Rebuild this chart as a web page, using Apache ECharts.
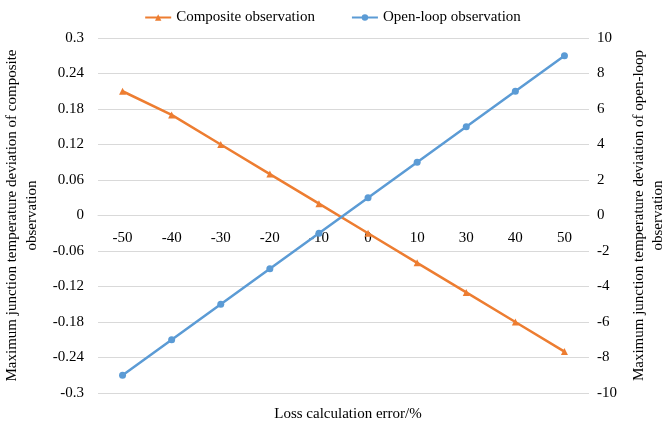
<!DOCTYPE html>
<html><head><meta charset="utf-8">
<script src="https://cdn.jsdelivr.net/npm/echarts@6/dist/echarts.min.js"></script>
<style>html,body{margin:0;padding:0;background:#fff}#c{width:665px;height:427px}</style>
</head><body><div id="c"></div>
<script>
const categories = ['-50','-40','-30','-20','-10','0','10','30','40','50'];
const composite = [0.21, 0.17, 0.12, 0.07, 0.02, -0.03, -0.08, -0.13, -0.18, -0.23];
const openLoop = [-9, -7, -5, -3, -1, 1, 3, 5, 7, 9];
const leftTicks = { min: -0.3, max: 0.3, interval: 0.06 };
const rightTicks = { min: -10, max: 10, interval: 2 };

const font = 'Liberation Serif';
const chart = echarts.init(document.getElementById('c'));
chart.setOption({
  animation: false,
  textStyle: { fontFamily: font },
  title: {
    text: 'Loss calculation error/%', left: 343, textAlign: 'center', top: 402,
    textStyle: { fontFamily: font, fontSize: 15, fontWeight: 'normal', color: '#000' }
  },
  legend: {
    top: 5, left: 'center', itemWidth: 26, itemHeight: 8, itemGap: 36,
    textStyle: { fontFamily: font, fontSize: 15, color: '#000' }
  },
  grid: { left: 98, right: 76, top: 38, bottom: 34, containLabel: false, outerBoundsMode: 'none' },
  xAxis: {
    type: 'category', data: categories, boundaryGap: true, position: 'bottom', offset: -177.5,
    axisLine: { onZero: false, lineStyle: { color: '#d9d9d9', width: 1 } },
    axisTick: { show: false },
    axisLabel: { fontFamily: font, fontSize: 15, color: '#000', margin: 15 }
  },
  yAxis: [
    {
      type: 'value', position: 'left', min: leftTicks.min, max: leftTicks.max, interval: leftTicks.interval,
      name: 'Maximum junction temperature deviation of composite\nobservation',
      nameLocation: 'middle', nameRotate: 90, nameGap: 48,
      nameTextStyle: { fontFamily: font, fontSize: 15, color: '#000', lineHeight: 20 },
      axisLabel: { fontFamily: font, fontSize: 15, color: '#000', margin: 14,
        formatter: v => String(+v.toFixed(2)) },
      axisLine: { show: false, onZero: false }, axisTick: { show: false },
      splitLine: { lineStyle: { color: '#d9d9d9' } }
    },
    {
      type: 'value', position: 'right', min: rightTicks.min, max: rightTicks.max, interval: rightTicks.interval,
      name: 'Maximum junction temperature deviation of open-loop\nobservation',
      nameLocation: 'middle', nameRotate: 90, nameGap: 41,
      nameTextStyle: { fontFamily: font, fontSize: 15, color: '#000', lineHeight: 19 },
      axisLabel: { fontFamily: font, fontSize: 15, color: '#000', margin: 8 },
      axisLine: { show: false, onZero: false }, axisTick: { show: false },
      splitLine: { show: false }
    }
  ],
  series: [
    {
      name: 'Composite observation', type: 'line', yAxisIndex: 0, data: composite,
      symbol: 'triangle', symbolSize: 7, showAllSymbol: true,
      itemStyle: { color: '#ED7D31' }, lineStyle: { color: '#ED7D31', width: 2.5 }
    },
    {
      name: 'Open-loop observation', type: 'line', yAxisIndex: 1, data: openLoop,
      symbol: 'circle', symbolSize: 7, showAllSymbol: true,
      itemStyle: { color: '#5B9BD5' }, lineStyle: { color: '#5B9BD5', width: 2.5 }
    }
  ]
});
</script></body></html>
